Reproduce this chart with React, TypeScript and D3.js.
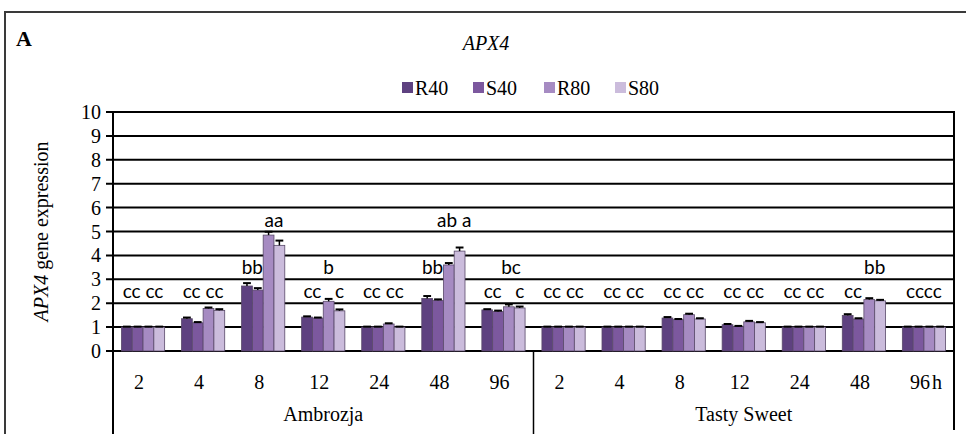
import React from "react";
import * as d3 from "d3";

const hours = ["2", "4", "8", "12", "24", "48", "96"];
const cultivars = ["Ambrozja", "Tasty Sweet"];
const seriesNames = ["R40", "S40", "R80", "S80"];
const seriesColors = ["#5e4180", "#7c589e", "#a68bc2", "#cbbcdc"];
const yTicks = [0, 1, 2, 3, 4, 5, 6, 7, 8, 9, 10];

// values per category (Ambrozja 2..96, Tasty Sweet 2..96)
const R40 = [1.0, 1.35, 2.72, 1.42, 1.0, 2.2, 1.72, 1.0, 1.0, 1.38, 1.1, 1.0, 1.49, 1.0];
const S40 = [1.0, 1.18, 2.55, 1.38, 1.0, 2.12, 1.65, 1.0, 1.0, 1.31, 1.03, 1.0, 1.34, 1.0];
const R80 = [1.0, 1.78, 4.85, 2.08, 1.13, 3.6, 1.85, 1.0, 1.0, 1.52, 1.22, 1.0, 2.15, 1.0];
const S80 = [1.0, 1.7, 4.42, 1.68, 1.0, 4.18, 1.8, 1.0, 1.0, 1.34, 1.18, 1.0, 2.1, 1.0];

const R40err = [0.02, 0.05, 0.12, 0.03, 0.02, 0.1, 0.03, 0.02, 0.02, 0.04, 0.03, 0.02, 0.05, 0.02];
const S40err = [0.02, 0.03, 0.08, 0.02, 0.02, 0.04, 0.04, 0.02, 0.02, 0.03, 0.02, 0.02, 0.03, 0.02];
const R80err = [0.02, 0.04, 0.14, 0.1, 0.03, 0.08, 0.1, 0.02, 0.02, 0.04, 0.04, 0.02, 0.06, 0.02];
const S80err = [0.02, 0.05, 0.2, 0.06, 0.02, 0.15, 0.06, 0.02, 0.02, 0.03, 0.03, 0.02, 0.04, 0.02];

// significance letters: category index, bar position (0..3), text, level (data units)
const annCat = [0, 1, 2, 2, 3, 3, 3, 4, 5, 5, 6, 6, 6, 7, 8, 9, 10, 11, 12, 12, 13];
const annPos = [1.5, 1.5, 0.5, 2.5, 0.5, 2, 3, 1.5, 0.5, 2.5, 0.5, 2.2, 3, 1.5, 1.5, 1.5, 1.5, 1.5, 0.5, 2.5, 1.5];
const annText = ["cc cc", "cc cc", "bb", "aa", "cc", "b", "c", "cc cc", "bb", "ab a", "cc", "bc", "c", "cc cc", "cc cc", "cc cc", "cc cc", "cc cc", "cc", "bb", "cccc"];
const annLevel = [2.5, 2.5, 3.5, 5.5, 2.5, 3.5, 2.5, 2.5, 3.5, 5.5, 2.5, 3.5, 2.5, 2.5, 2.5, 2.5, 2.5, 2.5, 2.5, 3.5, 2.5];

const values = [R40, S40, R80, S80];
const errors = [R40err, S40err, R80err, S80err];

export default function App() {
  const W = 966, H = 434;
  const left = 113, right = 954, top = 112, bottom = 351;
  const cats = cultivars.flatMap((c) => hours.map((h) => c + "|" + h));
  const x = d3.scaleBand<string>().domain(cats).range([left, right]).paddingInner(0).paddingOuter(0);
  const xb = d3.scaleBand<number>().domain([0, 1, 2, 3]).range([0, x.step()]).paddingInner(0).paddingOuter(0.78);
  const y = d3.scaleLinear().domain([0, 10]).range([bottom, top]);
  const serif = "Liberation Serif, Times New Roman, serif";
  const sans = "Lato, Open Sans, sans-serif";
  const bw = xb.bandwidth();
  const mid = left + (right - left) / 2;

  return (
    <svg width={W} height={H} style={{ position: "absolute", left: 0, top: 0, background: "#fff" }}>
      <rect x={0} y={0} width={W} height={H} fill="#fff" />
      {/* outer frame */}
      <path d={`M5,${H} V12 H${W}`} fill="none" stroke="#3a3a3a" strokeWidth={2} />
      <text x={16} y={46} fontFamily={serif} fontWeight="bold" fontSize={22}>A</text>
      <text x={486} y={50} fontFamily={serif} fontStyle="italic" fontSize={20} textAnchor="middle">APX4</text>

      {/* legend */}
      {seriesNames.map((s, i) => (
        <g key={s} transform={`translate(${402 + i * 71},88)`}>
          <rect x={0} y={-6} width={11} height={11} fill={seriesColors[i]} />
          <text x={13} y={7} fontFamily={serif} fontSize={20}>{s}</text>
        </g>
      ))}

      {/* gridlines */}
      {yTicks.map((t) => (
        <line key={t} x1={left - 7} x2={right} y1={y(t)} y2={y(t)} stroke="#000" strokeWidth={2} />
      ))}
      {yTicks.map((t) => (
        <text key={"l" + t} x={101} y={y(t) + 7} fontFamily={serif} fontSize={20} textAnchor="end">{t}</text>
      ))}
      <text transform={`translate(48,${(top + bottom) / 2}) rotate(-90)`} fontFamily={serif} fontSize={20} textAnchor="middle">
        <tspan fontStyle="italic">APX4</tspan> gene expression
      </text>

      {/* bars */}
      {cats.map((c, ci) => (
        <g key={c} transform={`translate(${x(c)},0)`}>
          {values.map((vals, si) => {
            const v = vals[ci];
            const e = errors[si][ci];
            const bx = xb(si)!;
            return (
              <g key={si}>
                <rect x={bx} y={y(v)} width={bw} height={y(0) - y(v)} fill={seriesColors[si]} stroke="#5a4a6a" strokeWidth={0.8} />
                <line x1={bx + bw / 2} x2={bx + bw / 2} y1={y(v)} y2={y(v + e)} stroke="#000" strokeWidth={1.5} />
                <line x1={bx + 1.5} x2={bx + bw - 1.5} y1={y(v + e)} y2={y(v + e)} stroke="#000" strokeWidth={2} />
              </g>
            );
          })}
        </g>
      ))}

      {/* significance letters */}
      {annText.map((t, i) => {
        const c = cats[annCat[i]];
        const cx = x(c)! + xb(0)! + bw * (annPos[i] + 0.5);
        return (
          <text key={"a" + i} x={cx} y={y(annLevel[i]) + 7} fontFamily={sans} fontSize={19} textAnchor="middle">{t}</text>
        );
      })}

      {/* axis frame lines */}
      <line x1={left} x2={left} y1={top - 1} y2={H} stroke="#000" strokeWidth={2} />
      <line x1={right} x2={right} y1={top - 1} y2={H - 4} stroke="#000" strokeWidth={2} />
      <line x1={mid} x2={mid} y1={bottom} y2={H} stroke="#000" strokeWidth={1.5} />

      {/* category labels */}
      {cats.map((c, ci) => (
        <text key={"c" + c} x={x(c)! + x.bandwidth() / 2 - 4} y={389} fontFamily={serif} fontSize={20} textAnchor="middle">
          {hours[ci % 7]}
        </text>
      ))}
      <text x={x(cats[13])! + x.bandwidth() / 2 + 8} y={389} fontFamily={serif} fontSize={20}>h</text>
      {cultivars.map((cv, i) => (
        <text key={cv} x={left + (right - left) * (i * 2 + 1) / 4} y={421} fontFamily={serif} fontSize={20} textAnchor="middle">{cv}</text>
      ))}
    </svg>
  );
}
